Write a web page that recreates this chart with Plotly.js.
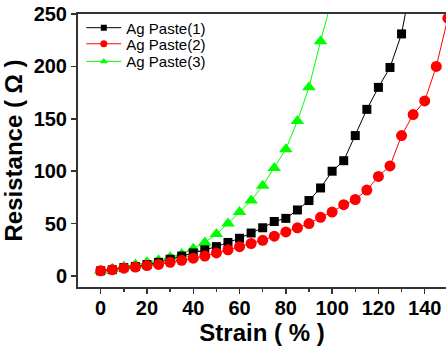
<!DOCTYPE html>
<html>
<head>
<meta charset="utf-8">
<script src="https://cdn.plot.ly/plotly-3.0.1.min.js"></script>
<style>html,body{margin:0;padding:0;background:#fff;}#chart{width:446px;height:347px;}</style>
</head>
<body>
<div id="chart"></div>
<script>
const strain1 = [0,5,10,15,20,25,30,35,40,45,50,55,60,65,70,75,80,85,90,95,100,105,110,115,120,125,130,135];
const paste1 = [5,6,8,9,11,13,16,19,22,25,28,32,36,41,46,52,55,63,72,84,100,110,134,159,180,199,231,290];
const strain2 = [0,5,10,15,20,25,30,35,40,45,50,55,60,65,70,75,80,85,90,95,100,105,110,115,120,125,130,135,140,145,150];
const paste2 = [5,6,7.5,8.5,10,11,13,15,17,19,22,25,28,31,34,38,42,46,50,56,61,68,73,82,95,105,134,154,167,200,246];
const strain3 = [0,5,10,15,20,25,30,35,40,45,50,55,60,65,70,75,80,85,90,95,100];
const paste3 = [5,7,9,11,13,15,18,21,26,32,40,50,61,72,86,103,121,148,180,224,265];
const names = ['Ag Paste(1)','Ag Paste(2)','Ag Paste(3)'];
const colors = ['#000000','#ff0000','#00ff00'];
const symbols = ['square','circle','triangle-up'];

const data = [
  {x: strain3, y: paste3, type:'scatter', mode:'lines+markers', showlegend:false,
   line:{color:colors[2], width:1}, marker:{symbol:symbols[2], size:12, color:colors[2]}},
  {x: strain1, y: paste1, type:'scatter', mode:'lines+markers', showlegend:false,
   line:{color:colors[0], width:1}, marker:{symbol:symbols[0], size:9, color:colors[0]}},
  {x: strain2, y: paste2, type:'scatter', mode:'lines+markers', showlegend:false,
   line:{color:colors[1], width:1}, marker:{symbol:symbols[1], size:11, color:colors[1]}}
];
const legendIds = ['legend','legend2','legend3'];
for (let i = 0; i < 3; i++) {
  data.push({x:[null], y:[null], type:'scatter', mode:'lines+markers', name:names[i], legend:legendIds[i],
    line:{color:colors[i], width:1}, marker:{symbol:symbols[i], size:[6,7,7][i], color:colors[i]}});
}

const legendBase = {x:0.009, xanchor:'left', yanchor:'middle', bgcolor:'rgba(0,0,0,0)', itemwidth:35,
  font:{size:15, family:'Liberation Sans, Arial, sans-serif'}};
const rowY = [0.949, 0.890, 0.8255];

const layout = {
  width: 446, height: 347,
  margin: {l:78, r:0, t:14, b:60},
  paper_bgcolor:'#fff', plot_bgcolor:'#fff',
  font: {family:'Liberation Sans, Arial, sans-serif', color:'#000'},
  showlegend: true,
  legend: Object.assign({}, legendBase, {y:rowY[0]}),
  legend2: Object.assign({}, legendBase, {y:rowY[1]}),
  legend3: Object.assign({}, legendBase, {y:rowY[2]}),
  xaxis: {
    range:[-9.8, 149.2], tick0:0, dtick:20, showgrid:false, zeroline:false,
    showline:true, linecolor:'#333', linewidth:2, mirror:true,
    ticks:'outside', ticklen:5, tickwidth:1.5, tickcolor:'#333', ticklabelstandoff:-3,
    minor:{dtick:10, ticks:'outside', ticklen:3, tickcolor:'#333'},
    tickfont:{size:20, family:'Liberation Sans, Arial, sans-serif', weight:'bold'},
    title:{text:'<b>Strain ( % )</b>', font:{size:24}, standoff:0}
  },
  yaxis: {
    range:[-10.5, 250], tick0:0, dtick:50, showgrid:false, zeroline:false,
    showline:true, linecolor:'#333', linewidth:2, mirror:false,
    ticks:'outside', ticklen:5, tickwidth:1.5, tickcolor:'#333',
    tickfont:{size:20, family:'Liberation Sans, Arial, sans-serif', weight:'bold'},
    title:{text:'<b>Resistance ( Ω )</b>', font:{size:24}, standoff:8}
  }
};
Plotly.newPlot('chart', data, layout, {displayModeBar:false, staticPlot:true});
</script>
</body>
</html>
